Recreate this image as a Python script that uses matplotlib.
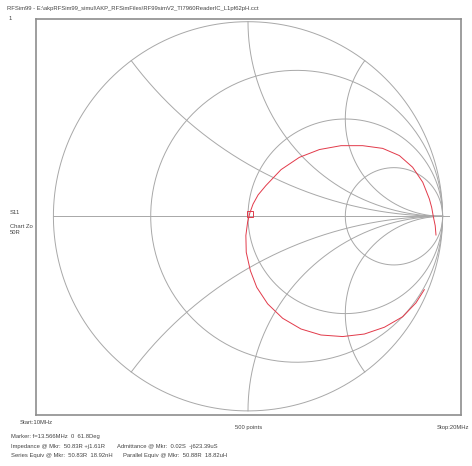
import matplotlib
matplotlib.use("Agg")
import matplotlib.pyplot as plt
import numpy as np

# --- data ---
r_circles = [1 / 3, 1, 3]            # constant resistance circles
x_arcs = [0.5, 1, 2, -0.5, -1, -2]    # constant reactance arcs

s11_re = [0.966, 0.962, 0.952, 0.944, 0.932, 0.898, 0.846, 0.778, 0.692,
          0.589, 0.478, 0.367, 0.264, 0.170, 0.092, 0.052, 0.026, 0.009,
          -0.002, -0.011, -0.009, 0.012, 0.045, 0.101, 0.178, 0.272, 0.375,
          0.486, 0.598, 0.701, 0.795, 0.863, 0.906]
s11_im = [-0.096, -0.048, 0.000, 0.045, 0.089, 0.175, 0.252, 0.312, 0.349,
          0.363, 0.363, 0.343, 0.303, 0.240, 0.158, 0.110, 0.063, 0.016,
          -0.030, -0.099, -0.185, -0.279, -0.365, -0.450, -0.524, -0.579,
          -0.610, -0.618, -0.605, -0.570, -0.516, -0.445, -0.377]
marker_gamma = (0.010, 0.014)

title = ("RFSim99 - E:\\akpRFSim99_simul\\AKP_RFSimFiles\\"
         "RF99simV2_TI7960ReaderIC_L1pf62pH.cct")
info_lines = [
    "Marker: f=13.566MHz  0  61.8Deg",
    "Impedance @ Mkr:  50.83R +j1.61R",
    "Series Equiv @ Mkr:  50.83R  18.92nH",
]
info_right = [
    "Admittance @ Mkr:  0.02S  -j623.39uS",
    "Parallel Equiv @ Mkr:  50.88R  18.82uH",
]

W, H = 472, 466
fig = plt.figure(figsize=(W / 100, H / 100), dpi=100)
plt.rcParams['font.family'] = ['Liberation Sans', 'DejaVu Sans']

# chart frame in pixels, chart centre and radius in pixels
fx0, fx1, fy0, fy1 = 36, 461, 19, 415
cx, cy, R = 248, 216.3, 194.6
ax = fig.add_axes([fx0 / W, 1 - fy1 / H, (fx1 - fx0) / W, (fy1 - fy0) / H])
ax.set_xlim((fx0 - cx) / R, (fx1 - cx) / R)
ax.set_ylim((cy - fy1) / R, (cy - fy0) / R)
ax.set_xticks([])
ax.set_yticks([])
for s in ax.spines.values():
    s.set_color("#8e8e8e")
    s.set_linewidth(1.2)

grid = dict(color="#a8a8a8", lw=0.7)
t = np.linspace(0, 2 * np.pi, 400)
ax.plot(np.cos(t), np.sin(t), **grid)
for r in r_circles:
    c, rad = r / (1 + r), 1 / (1 + r)
    ax.plot(c + rad * np.cos(t), rad * np.sin(t), **grid)

rr = np.tan(np.linspace(0, np.pi / 2 - 1e-4, 600))
for xv in x_arcs:
    z = rr + 1j * xv
    g = (z - 1) / (z + 1)
    ax.plot(g.real, g.imag, **grid)

ax.plot([-1, 1.031], [0, 0], **grid)

ax.plot(s11_re, s11_im, color="#e23a4a", lw=0.7)
ax.plot([marker_gamma[0]], [marker_gamma[1]], marker="s", ms=4,
        mfc="none", mec="#e03a4a", mew=0.7)


def ftext(x, y, s, **kw):
    fig.text(x / W, 1 - y / H, s, fontsize=4.2, color="#444444",
             va="center", ha="left", **kw)


ftext(7, 8.5, title)
ftext(9, 18, "1")
ftext(10, 213, "S11")
ftext(10, 226, "Chart Zo")
ftext(10, 232, "50R")
ftext(20, 422, "Start:10MHz")
ftext(235, 427.5, "500 points")
ftext(437, 427.5, "Stop:20MHz")
ftext(11, 436.5, info_lines[0])
ftext(11, 446.5, info_lines[1])
ftext(11, 456, info_lines[2])
ftext(117, 446.5, info_right[0])
ftext(123, 456, info_right[1])

fig.savefig("out.png", dpi=100)
